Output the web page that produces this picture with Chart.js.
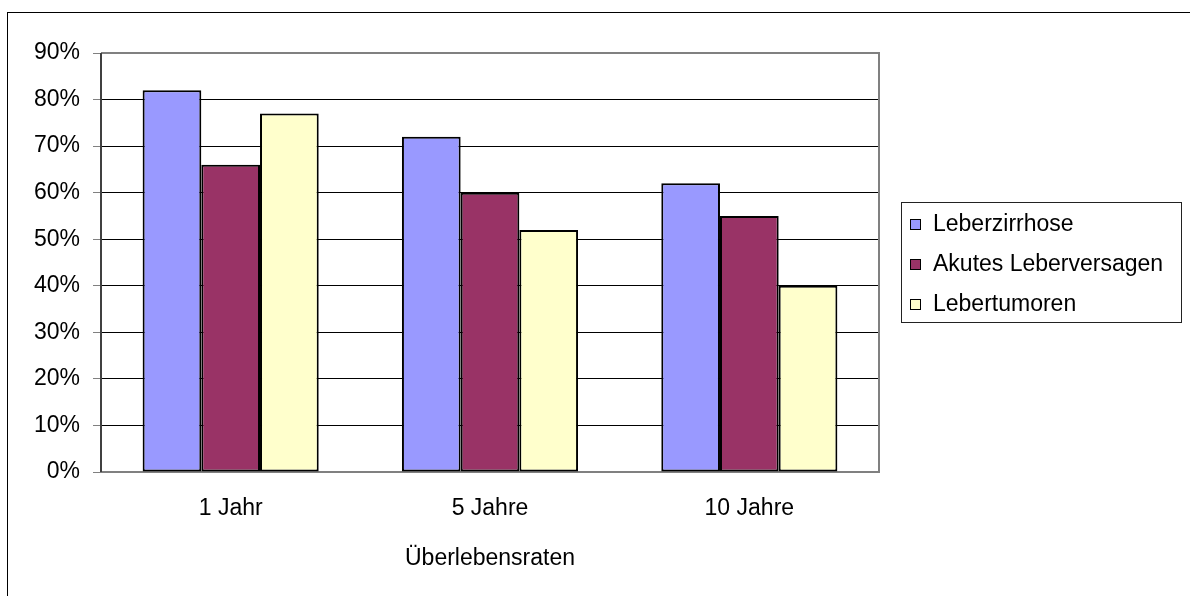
<!DOCTYPE html>
<html>
<head>
<meta charset="utf-8">
<script src="https://cdn.jsdelivr.net/npm/chart.js@4/dist/chart.umd.min.js"></script>
<style>
  body { margin: 0; background: #fff; }
  #wrap { position: relative; width: 1190px; height: 596px; overflow: hidden; }
  #frame { position: absolute; left: 7px; top: 12px; width: 1300px; height: 700px; border-left: 1.5px solid #000; border-top: 1.5px solid #000; }
  #legend { position: absolute; left: 901px; top: 202px; width: 281px; height: 121px; border: 1.5px solid #222; box-sizing: border-box;
    font-family: 'Liberation Sans', Arial, sans-serif; font-size: 23px; color: #000; }
  .item { position: absolute; left: 8px; height: 26px; line-height: 26px; white-space: nowrap; }
  .box { display: inline-block; width: 9px; height: 9px; border: 1.5px solid #000; margin-right: 12px; vertical-align: 1px; }
</style>
</head>
<body>
<div id="wrap">
  <div id="frame"></div>
  <canvas id="myChart" width="1190" height="596"></canvas>
  <div id="legend"></div>
</div>
<script>
const categories = ['1 Jahr', '5 Jahre', '10 Jahre'];
const seriesNames = ['Leberzirrhose', 'Akutes Leberversagen', 'Lebertumoren'];
const leberzirrhose = [82, 72, 62];
const akutesLeberversagen = [66, 60, 55];
const lebertumoren = [77, 52, 40];
const seriesColors = ['#9999ff', '#993366', '#ffffcc'];
const axisTitle = 'Überlebensraten';

const font = { family: "'Liberation Sans', Arial, sans-serif", size: 23 };
const ctx = document.getElementById('myChart').getContext('2d');

// gray plot-area frame
const plotFrame = {
  id: 'plotFrame',
  beforeDatasetsDraw(chart) {
    const a = chart.chartArea, c = chart.ctx;
    c.save();
    c.strokeStyle = '#808080';
    c.lineWidth = 2;
    c.beginPath();
    c.moveTo(a.left, a.top);
    c.lineTo(a.right, a.top);
    c.lineTo(a.right, a.bottom);
    c.lineTo(a.left, a.bottom);
    c.stroke();
    c.strokeStyle = '#404040';
    c.beginPath();
    c.moveTo(a.left, a.top);
    c.lineTo(a.left, a.bottom);
    c.stroke();
    c.restore();
  }
};

const allValues = [leberzirrhose, akutesLeberversagen, lebertumoren];

let myChart = new Chart(ctx, {
  type: 'bar',
  data: {
    labels: categories,
    datasets: allValues.map((vals, i) => ({
      label: seriesNames[i],
      data: vals,
      backgroundColor: seriesColors[i],
      borderColor: '#000',
      borderWidth: 2,
      borderSkipped: false,
      barPercentage: 1,
      categoryPercentage: 0.679
    }))
  },
  options: {
    responsive: false,
    animation: false,
    layout: { padding: { left: 0, right: 311, top: 53, bottom: 0 } },
    plugins: {
      legend: { display: false },
      tooltip: { enabled: false }
    },
    scales: {
      x: {
        grid: { display: false, drawTicks: false },
        border: { display: false },
        ticks: { color: '#000', font: font, padding: 23, maxRotation: 0 },
        title: { display: true, text: axisTitle, color: '#000', font: font, padding: { top: 0, bottom: 24 } },
        afterFit(scale) { scale.height = 124; }
      },
      y: {
        min: 0,
        max: 90,
        grid: {
          color: (c) => (c.tick && (c.tick.value === 0 || c.tick.value === 90)) ? 'rgba(0,0,0,0)' : '#000',
          lineWidth: 1,
          tickLength: 8,
          tickColor: '#808080'
        },
        border: { display: false },
        ticks: {
          stepSize: 10,
          color: '#000',
          font: font,
          padding: 13,
          callback: (v) => v + '%'
        },
        afterFit(scale) { scale.width = 101; }
      }
    }
  },
  plugins: [plotFrame]
});

// legend built from the series arrays
const legendEl = document.getElementById('legend');
seriesNames.forEach((name, i) => {
  const item = document.createElement('div');
  item.className = 'item';
  item.style.top = (7 + i * 40) + 'px';
  const box = document.createElement('span');
  box.className = 'box';
  box.style.background = seriesColors[i];
  item.appendChild(box);
  item.appendChild(document.createTextNode(name));
  legendEl.appendChild(item);
});
</script>
</body>
</html>
